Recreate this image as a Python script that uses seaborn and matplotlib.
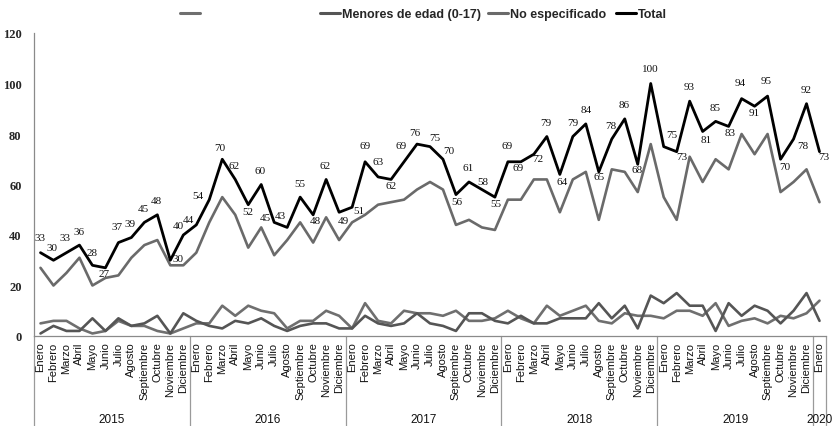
import matplotlib
matplotlib.use("Agg")
import matplotlib.pyplot as plt
import matplotlib.transforms as mtransforms
from matplotlib.lines import Line2D
import seaborn as sns
import numpy as np

# ---------------- data ----------------
months = ["Enero", "Febrero", "Marzo", "Abril", "Mayo", "Junio", "Julio",
          "Agosto", "Septiembre", "Octubre", "Noviembre", "Diciembre"]
years = ["2015", "2016", "2017", "2018", "2019", "2020"]
month_labels = months * 5 + ["Enero"]

total = [33, 30, 33, 36, 28, 27, 37, 39, 45, 48, 30, 40,
         44, 54, 70, 62, 52, 60, 45, 43, 55, 48, 62, 49,
         51, 69, 63, 62, 69, 76, 75, 70, 56, 61, 58, 55,
         69, 69, 72, 79, 64, 79, 84, 65, 78, 86, 68, 100,
         75, 73, 93, 81, 85, 83, 94, 91, 95, 70, 78, 92,
         73]
no_especificado = [27, 20, 25, 31, 20, 23, 24, 31, 36, 38, 28, 28,
                   33, 45, 55, 48, 35, 43, 32, 38, 45, 37, 47, 38,
                   45, 48, 52, 53, 54, 58, 61, 58, 44, 46, 43, 42,
                   54, 54, 62, 62, 49, 62, 65, 46, 66, 65, 57, 76,
                   55, 46, 71, 61, 70, 66, 80, 72, 80, 57, 61, 66,
                   53]
serie_sin_nombre = [5, 6, 6, 3, 1, 2, 6, 4, 4, 2, 1, 3,
                    5, 5, 12, 8, 12, 10, 9, 3, 6, 6, 10, 8,
                    3, 13, 6, 5, 10, 9, 9, 8, 10, 6, 6, 7,
                    10, 7, 5, 12, 8, 10, 12, 6, 5, 9, 8, 8,
                    7, 10, 10, 8, 13, 4, 6, 7, 5, 8, 7, 9,
                    14]
menores = [1, 4, 2, 2, 7, 2, 7, 4, 5, 8, 1, 9,
           6, 4, 3, 6, 5, 7, 4, 2, 4, 5, 5, 3,
           3, 8, 5, 4, 5, 9, 5, 4, 2, 9, 9, 6,
           5, 8, 5, 5, 7, 7, 7, 13, 7, 12, 3, 16,
           13, 17, 12, 12, 2, 13, 8, 12, 10, 5, 10, 17,
           6]
months_per_year = [12, 12, 12, 12, 12, 1]

# label offsets (pixels) for the Total data labels
label_dx = [0, -1, -1, 0, 0, -1, -1, -1, -1, -1, 8, -5,
            -8, -11, -2, -1, 0, -1, -9, -7, 0, 2, -1, 4,
            7, 0, 0, 0, -3, -2, 5, 6, 1, -1, 1, 1,
            -1, -3, 4, -1, 2, 0, 0, 0, -1, -1, -1, 0,
            8, 5, -1, 4, -1, 2, -1, 0, -1, 4, 9, 0,
            4]
label_dy = [15, 13, 15, 14, 13, -6, 16, 14, 14, 14, 2, 9,
            5, 4, 12, 14, -7, 14, 5, 12, 14, -6, 14, -8,
            -3, 16, 15, -6, 16, 12, 9, 9, -7, 14, 8, -6,
            16, -6, -4, 14, -7, 14, 14, -5, 14, 14, -5, 15,
            12, -5, 15, -8, 14, -6, 16, -6, 16, -7, -6, 14,
            -5]

# ---------------- style ----------------
sns.set_theme(style="white")
plt.rcParams["font.family"] = ["Liberation Sans", "DejaVu Sans"]

W, H = 834, 427
fig = plt.figure(figsize=(W / 100, H / 100), dpi=100)
ax_left, ax_right, ax_bottom, ax_top = 34, 826, 337, 34
ax = fig.add_axes([ax_left / W, 1 - ax_bottom / H,
                   (ax_right - ax_left) / W, (ax_bottom - ax_top) / H])

x = np.arange(len(total))
c_sin = "#6f6f6f"
c_men = "#555555"
c_noe = "#6a6a6a"
c_tot = "#000000"

sns.lineplot(x=x, y=serie_sin_nombre, ax=ax, color=c_sin, lw=1.9)
sns.lineplot(x=x, y=menores, ax=ax, color=c_men, lw=1.9)
sns.lineplot(x=x, y=no_especificado, ax=ax, color=c_noe, lw=1.9)
sns.lineplot(x=x, y=total, ax=ax, color=c_tot, lw=2.0)

ax.set_xlim(-0.5, len(total) - 0.5)
ax.set_ylim(0, 120)
ax.set_yticks(range(0, 121, 20))
ax.set_yticklabels([str(v) for v in range(0, 121, 20)],
                   family=["Liberation Serif"], fontweight="bold", fontsize=9)
ax.set_xticks(x)
ax.set_xticklabels(month_labels, rotation=90, fontsize=8,
                   family=["Liberation Sans Narrow", "Liberation Sans"],
                   va="top", ha="center", color="#111111")
ax.tick_params(axis="x", length=0, pad=4)
ax.tick_params(axis="y", length=0, pad=9)
ax.set_xlabel("")
ax.set_ylabel("")
ax.grid(False)
for s in ["top", "right"]:
    ax.spines[s].set_visible(False)
for s in ["left", "bottom"]:
    ax.spines[s].set_color("#8a8a8a")
    ax.spines[s].set_linewidth(0.9)

# year grouping lines and labels
trans = mtransforms.blended_transform_factory(ax.transData, ax.transAxes)
bottom_ax = -(H - ax_bottom) / (ax_bottom - ax_top)
year_y = -(420 - ax_bottom) / (ax_bottom - ax_top)
start = 0
bounds = [-0.5]
for yr, n in zip(years, months_per_year):
    end = start + n
    bounds.append(end - 0.5)
    ax.text((start + end - 1) / 2, year_y, yr, transform=trans,
            ha="center", va="center", fontsize=8.5,
            family=["Liberation Sans"], color="#111111")
    start = end
for b in bounds:
    ax.plot([b, b], [0, bottom_ax], transform=trans, color="#9a9a9a",
            lw=0.9, clip_on=False)

# data labels for Total
for xi, v, dx, dy in zip(x, total, label_dx, label_dy):
    ax.annotate(str(v), (xi, v), xytext=(dx, dy), textcoords="offset pixels",
                ha="center", va="center", fontsize=8,
                family=["Liberation Serif"], color="#111111")

# legend entries
legend_items = [("", c_sin, 180), ("Menores de edad (0-17)", c_men, 320),
                ("No especificado", c_noe, 488), ("Total", c_tot, 616)]
for lab, col, px in legend_items:
    h = Line2D([], [], color=col, lw=2.2)
    fig.legend(handles=[h], labels=[lab], loc="center left",
               bbox_to_anchor=(px / W, 1 - 15 / H), frameon=False,
               borderpad=0, borderaxespad=0, handlelength=1.6,
               handletextpad=0.15,
               prop={"family": ["Liberation Sans Narrow", "Liberation Sans"],
                     "weight": "bold", "size": 9})

fig.savefig("out.png", dpi=100)
